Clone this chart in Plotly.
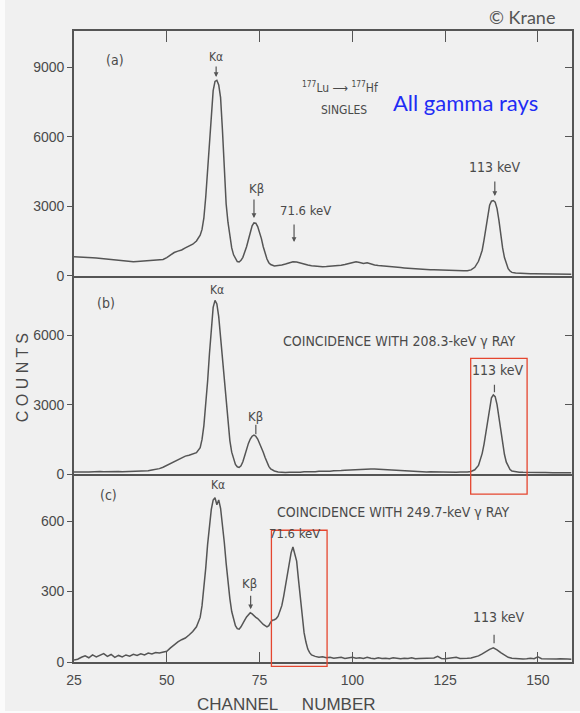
import plotly.graph_objects as go

# ---------------- data ----------------
ch_a = [25,26,27,28,29,30,31,32,33,34,35,36,37,38,39,40,41,42,43,44,45,46,47,48,49,50,51,52,53,54,55,56,57,58,59,59.5,60,60.5,61,61.5,62,62.5,63,63.5,64,64.5,65,65.5,66,66.5,67,67.5,68,68.5,69,69.5,70,70.5,71,71.5,72,72.5,73,73.5,74,74.5,75,75.5,76,76.5,77,77.5,78,79,80,81,82,83,84,85,86,87,88,89,90,91,92,93,94,95,96,97,98,99,100,101,102,103,104,105,106,107,108,109,110,111,112,113,114,115,116,117,118,119,120,121,122,123,124,125,126,127,128,129,130,131,132,133,134,134.5,135,135.5,136,136.5,137,137.5,138,138.5,139,139.5,140,140.5,141,141.5,142,142.5,143,144,145,146,147,148,149,150,151,152,153,154,155,156,157,158,159]
counts_a = [815,800,805,790,780,770,760,745,740,720,700,690,660,640,620,610,600,610,620,630,640,650,650,660,700,780,880,1000,1060,1110,1200,1280,1360,1500,1750,2000,2500,3400,4600,6000,7200,8000,8400,8450,8250,7700,6300,4800,3100,2300,1700,1200,900,720,610,590,660,790,1000,1250,1550,1900,2150,2280,2270,2120,1900,1600,1250,950,720,560,480,420,430,460,500,540,600,590,540,500,460,430,410,395,386,395,405,420,430,450,480,520,560,600,570,530,560,500,460,440,420,400,386,380,365,350,335,320,305,290,280,270,262,255,250,242,240,232,228,222,220,214,212,216,250,360,620,850,1100,1550,2100,2650,3050,3220,3250,3180,2900,2400,1750,1200,780,480,300,200,140,110,95,90,88,82,80,80,75,78,72,74,70,70,66,68,65]

ch_b = [25,26,27,28,29,30,31,32,33,34,35,36,37,38,39,40,41,42,43,44,45,46,47,48,49,50,51,52,53,54,55,56,57,58,59,59.5,60,60.5,61,61.5,62,62.5,63,63.5,64,64.5,65,65.5,66,66.5,67,67.5,68,68.5,69,69.5,70,70.5,71,71.5,72,72.5,73,73.5,74,74.5,75,75.5,76,76.5,77,77.5,78,79,80,81,82,83,84,85,86,87,88,89,90,91,92,93,94,95,96,97,98,99,100,101,102,103,104,105,106,107,108,109,110,111,112,113,114,115,116,117,118,119,120,121,122,123,124,125,126,127,128,129,130,131,132,133,134,134.5,135,135.5,136,136.5,137,137.5,138,138.5,139,139.5,140,140.5,141,141.5,142,142.5,143,144,145,146,147,148,149,150,151,152,153,154,155,156,157,158,159]
counts_b = [100,90,110,100,95,110,100,120,105,110,130,110,120,105,110,100,115,110,120,130,150,180,200,240,300,380,460,550,630,720,780,820,870,930,1150,1500,2100,2900,4000,5200,6400,7200,7500,7350,6800,5900,4800,3800,2900,2100,1450,950,620,420,320,290,360,540,800,1080,1330,1520,1640,1690,1640,1520,1350,1150,950,720,500,340,230,140,100,80,75,90,80,100,90,110,100,120,110,130,120,140,130,150,140,160,170,180,190,200,210,215,220,225,220,210,200,190,180,170,150,140,130,120,125,110,115,110,100,105,100,95,110,100,95,100,90,100,95,100,120,190,380,600,900,1300,1800,2400,2950,3300,3420,3350,3000,2500,1900,1300,850,520,320,200,140,100,90,80,85,75,80,70,75,70,80,65,60,70,65,60,60]

ch_c = [25,26,27,28,29,30,31,32,33,34,35,36,37,38,39,40,41,42,43,44,45,46,47,48,49,50,51,52,53,54,55,56,57,58,59,59.5,60,60.5,61,61.5,62,62.5,63,63.5,64,64.5,65,65.5,66,66.5,67,67.5,68,68.5,69,69.5,70,70.5,71,71.5,72,72.5,73,73.5,74,74.5,75,76,77,77.5,78,78.5,79,79.5,80,80.5,81,81.5,82,82.5,83,83.5,84,84.5,85,85.5,86,86.5,87,87.5,88,88.5,89,90,91,92,93,94,95,96,97,98,99,100,101,102,103,104,105,106,107,108,109,110,111,112,113,114,115,116,117,118,119,120,121,122,123,124,125,126,127,128,129,130,131,132,133,134,135,136,137,138,139,140,141,142,143,144,145,146,147,148,149,150,151,152,153,154,155,156,157,158,159]
counts_c = [8,12,20,26,18,30,22,28,36,24,32,20,28,22,30,25,33,28,35,30,38,34,40,38,42,46,60,75,86,95,102,115,130,150,190,240,310,400,500,580,650,690,700,670,690,655,590,510,420,340,270,215,178,155,142,140,150,162,178,192,200,210,205,195,190,185,175,160,150,155,170,178,180,185,195,215,240,280,330,380,430,465,490,460,430,350,265,190,125,85,55,40,30,24,20,22,18,20,16,18,20,15,18,20,16,18,15,20,16,14,18,15,16,14,18,15,14,16,15,18,14,15,16,14,15,17,24,15,14,16,15,20,15,14,16,17,20,26,35,45,54,60,52,40,28,20,16,14,15,13,14,16,14,22,14,13,15,14,13,14,12,13,12]

x_ticks = [25, 50, 75, 100, 125, 150]
y_ticks_a = [0, 3000, 6000, 9000]
y_ticks_b = [0, 3000, 6000]
y_ticks_c = [0, 300, 600]

# ---------------- styling ----------------
INK = "#555555"
TXT = "#4a4a4a"
SCAN = "Liberation Sans Narrow, DejaVu Sans Condensed, Roboto Condensed, Liberation Sans, sans-serif"
TICKF = dict(family="Liberation Sans, Arial, sans-serif", size=14, color=TXT)
XR = [25, 159.2]

fig = go.Figure()
for xs, ys, xa, ya in [(ch_a, counts_a, "x", "y"), (ch_b, counts_b, "x2", "y2"), (ch_c, counts_c, "x3", "y3")]:
    fig.add_trace(go.Scatter(x=xs, y=ys, xaxis=xa, yaxis=ya, mode="lines",
                             line=dict(color=INK, width=1.5), showlegend=False, hoverinfo="skip"))
# helper traces so the overlay tick axes render
for xa, ya in [("x", "y4"), ("x2", "y5"), ("x3", "y6"), ("x4", "y")]:
    fig.add_trace(go.Scatter(x=[None], y=[None], xaxis=xa, yaxis=ya, mode="lines", showlegend=False, hoverinfo="skip"))

dom_c = [0, 0.2976]
dom_b = [0.2976, 0.6123]
dom_a = [0.6123, 1]
axline = dict(showline=True, linecolor="#555", linewidth=1.6, showgrid=False, zeroline=False, automargin=False)

yax = dict(ticks="outside", ticklen=5, tickwidth=1.3, tickcolor="#555", tickfont=TICKF, mirror=True, **axline)
rax = dict(side="right", ticks="inside", ticklen=7, tickwidth=1.3, tickcolor="#555", automargin=False,
           showticklabels=False, showgrid=False, zeroline=False, showline=False)

fig.update_layout(
    width=580, height=713,
    margin=dict(l=74, r=8, t=31, b=51),
    paper_bgcolor="#fbfbfb", plot_bgcolor="rgba(0,0,0,0)",
    xaxis=dict(domain=[0, 1], anchor="y", range=XR, ticks="", showticklabels=False, mirror=True, **axline),
    xaxis2=dict(domain=[0, 1], anchor="y2", range=XR, ticks="", showticklabels=False, **axline),
    xaxis3=dict(domain=[0, 1], anchor="y3", range=XR, tickvals=x_ticks, ticks="inside", ticklen=10,
                tickwidth=1.3, tickcolor="#555", tickfont=TICKF, ticklabelstandoff=4, **axline),
    xaxis4=dict(overlaying="x", anchor="y", side="top", range=XR, tickvals=x_ticks[1:], ticks="inside",
                ticklen=11, tickwidth=1.3, tickcolor="#555", showticklabels=False, showgrid=False,
                zeroline=False, showline=False, automargin=False),
    yaxis=dict(domain=dom_a, anchor="x", range=[0, 10580], tickvals=y_ticks_a, **yax),
    yaxis2=dict(domain=dom_b, anchor="x2", range=[0, 8570], tickvals=y_ticks_b, **yax),
    yaxis3=dict(domain=dom_c, anchor="x3", range=[0, 800], tickvals=y_ticks_c, **yax),
    yaxis4=dict(overlaying="y", anchor="x", range=[0, 10580], tickvals=y_ticks_a[1:], **rax),
    yaxis5=dict(overlaying="y2", anchor="x2", range=[0, 8570], tickvals=y_ticks_b[1:], **rax),
    yaxis6=dict(overlaying="y3", anchor="x3", range=[0, 800], tickvals=y_ticks_c[1:], **rax),
)

# scanned page background
fig.add_shape(type="rect", xref="paper", yref="paper", x0=-69/498.3, x1=1.02, y0=-49/630.7, y1=1.06,
              fillcolor="#f0f0f0", line=dict(width=0), layer="below")

def label(text, x, y, xa, ya, size=13, font=SCAN, color=TXT, **kw):
    fig.add_annotation(text=text, x=x, y=y, xref=xa, yref=ya, showarrow=False,
                       xanchor="center", yanchor="middle",
                       font=dict(family=font, size=size, color=color), **kw)

def arrow(x, y, xa, ya, ay, head=2):
    fig.add_annotation(text="", x=x, y=y, xref=xa, yref=ya, ax=0, ay=ay, showarrow=True,
                       arrowhead=head, arrowsize=0.8, arrowwidth=1.2, arrowcolor=INK)

# panel (a)
label("(a)", 36.0, 9330, "x", "y", size=14)
label("Kα", 63.3, 9460, "x", "y", size=12)
arrow(63.3, 8590, "x", "y", -12)
label("<sup>177</sup>Lu ⟶ <sup>177</sup>Hf", 96.7, 8160, "x", "y", size=12)
label("SINGLES", 97.7, 7165, "x", "y", size=12)
label("Kβ", 74.3, 3790, "x", "y", size=13)
arrow(73.5, 2490, "x", "y", -20)
label("71.6 keV", 87.5, 2835, "x", "y", size=13)
arrow(84.3, 1450, "x", "y", -19)
label("113 keV", 138.4, 4697, "x", "y", size=14)
arrow(138.4, 3440, "x", "y", -16)
label("All gamma rays", 130.6, 7470, "x", "y", size=22, font="Lato, Open Sans, sans-serif", color="#1f2cf5")

# panel (b)
label("(b)", 33.6, 7380, "x2", "y2", size=14)
label("Kα", 63.5, 7940, "x2", "y2", size=12)
label("Kβ", 74.0, 2500, "x2", "y2", size=13)
arrow(74.0, 1727, "x2", "y2", -11, head=0)
label("COINCIDENCE WITH 208.3-keV γ RAY", 112.6, 5740, "x2", "y2", size=14)
label("113 keV", 139.2, 4490, "x2", "y2", size=14)
arrow(138.3, 3540, "x2", "y2", -9, head=0)

# panel (c)
label("(c)", 34.2, 711, "x3", "y3", size=14)
label("Kα", 63.8, 753, "x3", "y3", size=12)
label("Kβ", 72.2, 336, "x3", "y3", size=13)
arrow(72.6, 225, "x3", "y3", -15)
label("COINCIDENCE WITH 249.7-keV γ RAY", 110.9, 638, "x3", "y3", size=14)
label("71.6 keV", 84.3, 549, "x3", "y3", size=13)
label("113 keV", 139.5, 190, "x3", "y3", size=14)
arrow(138.2, 80, "x3", "y3", -10, head=0)

# axis titles and credit
def plabel(text, px, py, size, font="Liberation Sans, Arial, sans-serif", color=TXT, **kw):
    fig.add_annotation(text=text, xref="paper", yref="paper",
                       x=(px - 74) / 498.3, y=(661.7 - py) / 630.7, showarrow=False,
                       xanchor="center", yanchor="middle",
                       font=dict(family=font, size=size, color=color), **kw)

plabel("CHANNEL\u00a0\u00a0\u00a0\u00a0\u00a0NUMBER", 287, 704, 17)
plabel("C O U N T S", 22, 378, 16, textangle=-90)
plabel("© Krane", 522, 17, 18, font="Lato, Open Sans, sans-serif", color="#555")

# red highlight boxes
fig.add_shape(type="rect", xref="x3", yref="paper", x0=131.9, x1=147.1,
              y0=(661.7 - 494) / 630.7, y1=(661.7 - 358.3) / 630.7,
              line=dict(color="#e5462f", width=1.3), fillcolor="rgba(0,0,0,0)")
fig.add_shape(type="rect", xref="x3", yref="paper", x0=78.2, x1=93.2,
              y0=(661.7 - 666) / 630.7, y1=(661.7 - 530) / 630.7,
              line=dict(color="#e5462f", width=1.3), fillcolor="rgba(0,0,0,0)")

fig.write_html("out.html", config={"displayModeBar": False},
               post_script="document.body.style.margin='0';document.body.style.overflow='hidden';")
